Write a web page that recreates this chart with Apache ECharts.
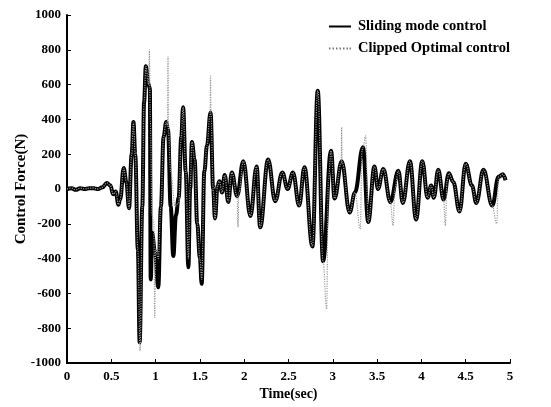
<!DOCTYPE html>
<html lang="en">
<head>
    <meta charset="UTF-8">
    <title>Control Force</title>
    <style>
        html, body { margin: 0; padding: 0; background: #fff; }
        #chart { width: 551px; height: 407px; }
    </style>
</head>
<body>
<div id="chart"></div>
<script src="https://cdn.jsdelivr.net/npm/echarts@6/dist/echarts.min.js"></script>
<script>
    // time (sec), force (N), peaks and troughs
    var slidingMode = [
        [0, 0], [0.05, 5], [0.1, -5], [0.15, 5], [0.2, 0], [0.25, 5], [0.3, 5], [0.35, 0],
        [0.4, 10], [0.45, 35], [0.49, 20], [0.52, -30], [0.55, -15], [0.58, -90], [0.6, -60],
        [0.64, 120], [0.67, 40], [0.7, -110], [0.73, 200], [0.75, 385], [0.77, 200], [0.8, -350],
        [0.82, -880], [0.85, -100], [0.87, 500], [0.89, 705], [0.92, 600], [0.935, 580],
        [0.945, -520], [0.96, -250], [0.99, -350], [1.03, -565], [1.06, -100], [1.09, 300],
        [1.12, 385], [1.14, 340], [1.17, -100], [1.2, -385], [1.23, -150], [1.26, -50],
        [1.29, 300], [1.31, 470], [1.34, 100], [1.37, -450], [1.39, 0], [1.41, 270], [1.44, 170],
        [1.47, -200], [1.5, -400], [1.52, -545], [1.55, 100], [1.58, 250], [1.62, 440], [1.65, 0],
        [1.67, -170], [1.7, 20], [1.72, 45], [1.75, -20], [1.78, 80], [1.82, -75], [1.86, 95],
        [1.92, -40], [1.99, 160], [2.07, -155], [2.14, 130], [2.18, -220], [2.27, 170],
        [2.35, -70], [2.43, 95], [2.49, 0], [2.55, 95], [2.62, -95], [2.68, 125], [2.77, -330],
        [2.83, 565], [2.89, -415], [2.98, 220], [3.02, -55], [3.1, 160], [3.19, -135],
        [3.25, -20], [3.34, 240], [3.4, -190], [3.47, 130], [3.51, 0], [3.57, 115], [3.65, -75],
        [3.74, 105], [3.79, -80], [3.87, 160], [3.94, -175], [4.01, 160], [4.07, -50],
        [4.11, 20], [4.14, -50], [4.19, 110], [4.25, -60], [4.31, 90], [4.36, 40], [4.43, -130],
        [4.5, 145], [4.57, 20], [4.62, -80], [4.7, 110], [4.8, -95], [4.87, 70], [4.92, 85],
        [4.95, 50]
    ];
    var clippedOptimal = [
        [0, 0], [0.05, 5], [0.1, -5], [0.15, 5], [0.2, 0], [0.25, 5], [0.3, 5], [0.35, 0],
        [0.4, 10], [0.45, 35], [0.49, 20], [0.52, -30], [0.55, -15], [0.58, -90], [0.6, -60],
        [0.64, 120], [0.67, 40], [0.7, -110], [0.73, 200], [0.75, 385], [0.77, 200], [0.8, -350],
        [0.825, -930], [0.85, -100], [0.87, 500], [0.89, 705], [0.92, 600], [0.93, 800],
        [0.94, 400], [0.96, -150], [0.98, -200], [0.99, -740], [1.0, -350], [1.03, -400],
        [1.06, -100], [1.09, 300], [1.12, 385], [1.135, 360], [1.14, 760], [1.145, 330],
        [1.17, 100], [1.22, -100], [1.26, -80], [1.29, 300], [1.31, 470], [1.34, 100],
        [1.37, -400], [1.39, 0], [1.41, 270], [1.44, 170], [1.47, -200], [1.5, -400],
        [1.52, -520], [1.55, 100], [1.58, 250], [1.615, 430], [1.62, 650], [1.625, 430],
        [1.65, 0], [1.67, -170], [1.7, 20], [1.72, 45], [1.75, -20], [1.78, 80], [1.82, -75],
        [1.86, 95], [1.92, -40], [1.93, -220], [1.94, -20], [1.99, 160], [2.07, -155],
        [2.14, 130], [2.18, -220], [2.27, 170], [2.35, -70], [2.43, 95], [2.49, 0], [2.55, 95],
        [2.62, -95], [2.68, 125], [2.77, -330], [2.83, 565], [2.89, -415], [2.93, -690],
        [2.95, 50], [2.98, 220], [3.02, -55], [3.095, 150], [3.1, 355], [3.105, 150],
        [3.19, -135], [3.25, -20], [3.31, -230], [3.33, 220], [3.34, 240], [3.37, 305],
        [3.4, -190], [3.47, 130], [3.51, 0], [3.57, 115], [3.65, -75], [3.68, -210], [3.7, 0],
        [3.74, 105], [3.79, -80], [3.87, 160], [3.94, -175], [4.01, 160], [4.07, -50],
        [4.11, 20], [4.14, -50], [4.19, 110], [4.25, -60], [4.27, -210], [4.29, 50], [4.31, 90],
        [4.36, 40], [4.43, -130], [4.5, 145], [4.57, 20], [4.62, -80], [4.7, 110], [4.8, -95],
        [4.85, -200], [4.87, 70], [4.92, 85], [4.95, 50]
    ];
    var seriesNames = ['Sliding mode control', 'Clipped Optimal control'];

    var font = '"Liberation Serif", "Times New Roman", serif';
    var solidIcon = 'path://M0,0h22v2h-22z';
    var dottedIcon = 'path://M0,0h1.5v2h-1.5zM3.5,0h1.5v2h-1.5zM7,0h1.5v2h-1.5zM10.5,0h1.5v2h-1.5z' +
        'M14,0h1.5v2h-1.5zM17.5,0h1.5v2h-1.5zM20.5,0h1.5v2h-1.5z';
    var chart = echarts.init(document.getElementById('chart'), null, {renderer: 'canvas'});

    chart.setOption({
        backgroundColor: '#fff',
        animation: false,
        grid: {left: 67, right: 41, top: 15, bottom: 44, outerBoundsMode: 'none', containLabel: false},
        legend: {
            top: 14,
            right: 36,
            orient: 'vertical',
            itemGap: 7,
            itemWidth: 22,
            itemHeight: 2,
            textStyle: {fontFamily: font, fontWeight: 'bold', fontSize: 14.5, color: '#000', padding: [0, 0, 0, 2]},
            data: [
                {name: seriesNames[0], icon: solidIcon, itemStyle: {color: '#000'}},
                {name: seriesNames[1], icon: dottedIcon, itemStyle: {color: '#777'}}
            ]
        },
        xAxis: {
            type: 'value',
            min: 0,
            max: 5,
            interval: 0.5,
            name: 'Time(sec)',
            nameLocation: 'middle',
            nameGap: 24,
            nameMoveOverlap: false,
            nameTextStyle: {fontFamily: font, fontWeight: 'bold', fontSize: 14, color: '#000'},
            axisLine: {onZero: false, lineStyle: {color: '#000', width: 2}},
            axisTick: {inside: true, length: 4, lineStyle: {color: '#000'}},
            axisLabel: {fontFamily: font, fontWeight: 'bold', fontSize: 13, color: '#000', margin: 7},
            splitLine: {show: false}
        },
        yAxis: {
            type: 'value',
            min: -1000,
            max: 1000,
            interval: 200,
            name: 'Control Force(N)',
            nameLocation: 'middle',
            nameRotate: 90,
            nameGap: 38,
            nameMoveOverlap: false,
            nameTextStyle: {fontFamily: font, fontWeight: 'bold', fontSize: 15, color: '#000'},
            axisLine: {show: true, lineStyle: {color: '#000', width: 2}},
            axisTick: {show: true, inside: true, length: 4, lineStyle: {color: '#000'}},
            axisLabel: {
                fontFamily: font, fontWeight: 'bold', fontSize: 13, color: '#000', margin: 6,
                formatter: function (v) { return String(v); }
            },
            splitLine: {show: false}
        },
        series: [
            {
                name: seriesNames[0],
                type: 'line',
                data: slidingMode,
                symbol: 'none',
                smooth: 0.4,
                smoothMonotone: 'x',
                lineStyle: {color: '#000', width: 4},
                itemStyle: {color: '#000'}
            },
            {
                name: seriesNames[1],
                type: 'line',
                data: clippedOptimal,
                symbol: 'none',
                smooth: 0.4,
                smoothMonotone: 'x',
                lineStyle: {color: '#9a9a9a', width: 1.2, type: 'dotted'},
                itemStyle: {color: '#9a9a9a'}
            }
        ]
    });
</script>
</body>
</html>
